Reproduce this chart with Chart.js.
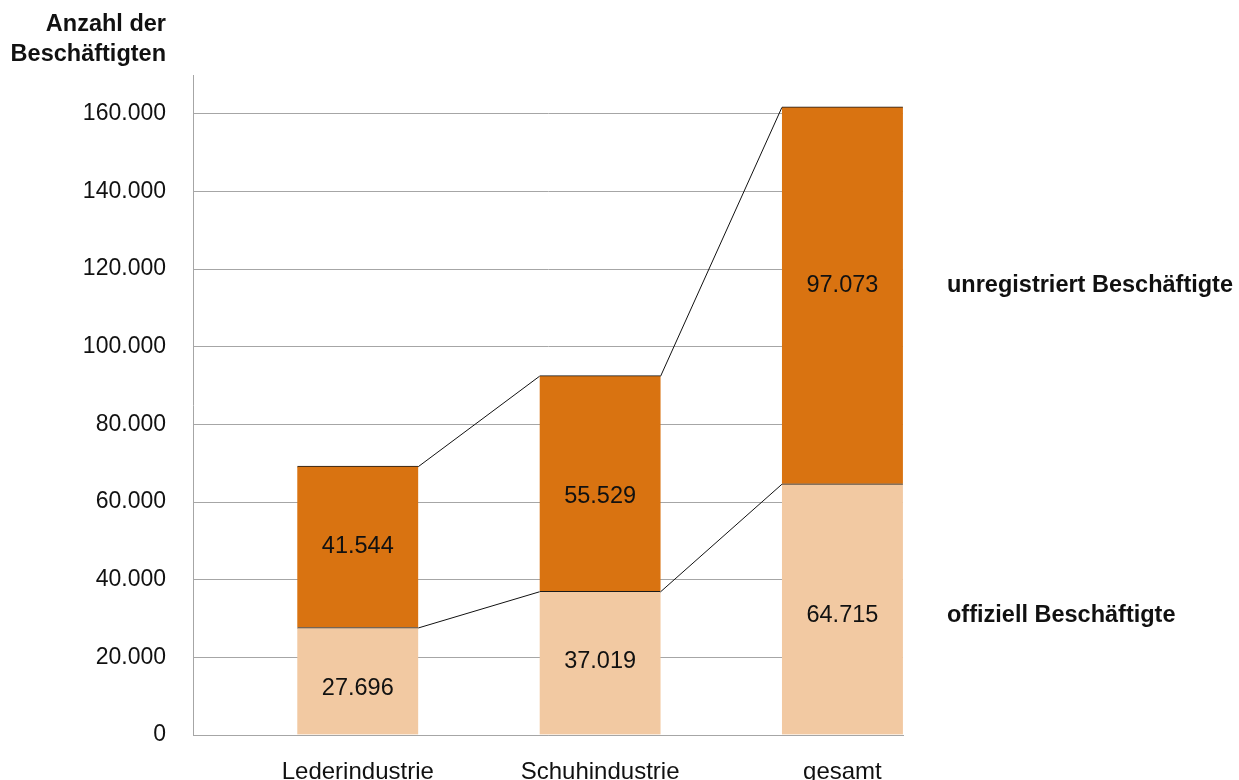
<!DOCTYPE html>
<html><head><meta charset="utf-8">
<script src="https://cdn.jsdelivr.net/npm/chart.js@4"></script>
<style>html,body{margin:0;padding:0;background:#fff}#wrap{width:1239px;height:780px}</style>
</head><body><div id="wrap"><canvas id="c" width="1239" height="780"></canvas></div>
<script>
const categories = ['Lederindustrie', 'Schuhindustrie', 'gesamt'];
const official = [27696, 37019, 64715];
const unregistered = [41544, 55529, 97073];
const seriesNames = ['offiziell Beschäftigte', 'unregistriert Beschäftigte'];
const yTicks = [0, 20000, 40000, 60000, 80000, 100000, 120000, 140000, 160000];
const yMax = 170000;
const axisTitle = ['Anzahl der', 'Beschäftigten'];

const FONT = '"Liberation Sans", Arial, sans-serif';
const fmt = v => String(Math.round(v)).replace(/\B(?=(\d{3})+(?!\d))/g, '.');
// small pixel nudges of value labels (as placed in the original)
const labelNudge = [[8, -1, 6], [0, 13, -10]];

const overlay = {
  id: 'overlay',
  afterDatasetsDraw(chart) {
    const ctx = chart.ctx;
    ctx.save();
    ctx.strokeStyle = '#111';
    ctx.lineWidth = 1;
    chart.data.datasets.forEach((ds, d) => {
      const bars = chart.getDatasetMeta(d).data;
      for (let i = 0; i < bars.length - 1; i++) {
        const a = bars[i], b = bars[i + 1];
        ctx.beginPath();
        ctx.moveTo(a.x + a.width / 2, a.y + 0.5);
        ctx.lineTo(b.x - b.width / 2, b.y + 0.5);
        ctx.stroke();
      }
    });
    // value labels
    ctx.fillStyle = '#111';
    ctx.font = '23.5px ' + FONT;
    ctx.textAlign = 'center';
    ctx.textBaseline = 'middle';
    chart.data.datasets.forEach((ds, d) => {
      const bars = chart.getDatasetMeta(d).data;
      bars.forEach((bar, i) => {
        const y = (bar.y + bar.base) / 2 + labelNudge[d][i];
        ctx.fillText(fmt(ds.data[i].y), bar.x, y);
      });
    });
    // series names at the right, aligned to last bar labels
    ctx.font = 'bold 23.5px ' + FONT;
    ctx.textAlign = 'left';
    chart.data.datasets.forEach((ds, d) => {
      const bars = chart.getDatasetMeta(d).data;
      const last = bars[bars.length - 1];
      const y = (last.y + last.base) / 2 + labelNudge[d][bars.length - 1];
      ctx.fillText(ds.label, 947, y);
    });
    // axis title
    ctx.font = 'bold 23.5px ' + FONT;
    ctx.textAlign = 'right';
    ctx.textBaseline = 'alphabetic';
    ctx.fillText(axisTitle[0], 166, 31);
    ctx.fillText(axisTitle[1], 166, 61);
    ctx.restore();
  }
};

new Chart(document.getElementById('c'), {
  type: 'bar',
  data: {
    datasets: [
      {
        label: seriesNames[0],
        data: official.map((v, i) => ({ x: i, y: v })),
        backgroundColor: '#F2C9A2',
        borderColor: '#1a1a1a',
        borderWidth: { top: 1, left: 0, right: 0, bottom: 0 },
        borderSkipped: false,
        barThickness: 121
      },
      {
        label: seriesNames[1],
        data: unregistered.map((v, i) => ({ x: i, y: v })),
        backgroundColor: '#D97311',
        borderColor: '#1a1a1a',
        borderWidth: { top: 1, left: 0, right: 0, bottom: 0 },
        borderSkipped: false,
        barThickness: 121
      }
    ]
  },
  options: {
    responsive: false,
    animation: false,
    devicePixelRatio: 1,
    layout: { padding: { top: 75, right: 336, left: 0, bottom: 0 } },
    plugins: { legend: { display: false }, tooltip: { enabled: false } },
    scales: {
      x: {
        type: 'linear',
        stacked: true,
        offset: false,
        min: -0.68,
        max: 2.25,
        afterBuildTicks: s => { s.ticks = categories.map((c, i) => ({ value: i })); },
        afterFit: s => { s.height = 45; },
        ticks: {
          callback: v => categories[v],
          color: '#111',
          font: { family: FONT, size: 24 },
          padding: 23,
          maxRotation: 0,
          autoSkip: false
        },
        grid: { display: false, drawTicks: false },
        border: { display: true, color: '#a6a6a6', width: 1 }
      },
      y: {
        stacked: true,
        min: 0,
        max: yMax,
        afterBuildTicks: s => { s.ticks = yTicks.map(v => ({ value: v })); },
        afterFit: s => { s.width = 193; },
        ticks: {
          callback: v => fmt(v),
          color: '#111',
          font: { family: FONT, size: 23 },
          padding: 27
        },
        grid: { color: '#a6a6a6', lineWidth: 1, drawTicks: false },
        border: { display: true, color: '#a6a6a6', width: 1 }
      }
    }
  },
  plugins: [overlay]
});
</script></body></html>
